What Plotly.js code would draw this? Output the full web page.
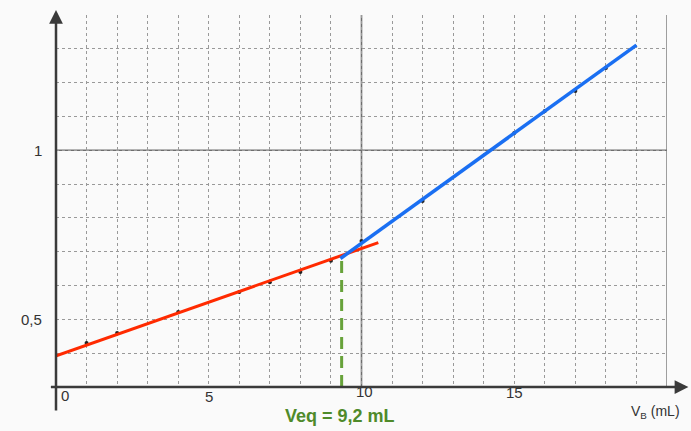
<!DOCTYPE html>
<html>
<head>
<meta charset="utf-8">
<script src="https://cdn.plot.ly/plotly-3.0.1.min.js"></script>
<style>html,body{margin:0;padding:0;background:#fafafa;}#chart{width:691px;height:431px;}</style>
</head>
<body>
<div id="chart"></div>
<script>
// Measured points (V_B in mL, measured quantity)
const pointsX = [1, 2, 4, 6, 7, 8, 9, 10, 12, 15, 16, 17, 18];
const pointsY = [0.430, 0.460, 0.522, 0.581, 0.610, 0.640, 0.673, 0.732, 0.850, 1.051, 1.116, 1.175, 1.243];
// Fitted line before equivalence (red)
const redX = [-0.1, 10.55];
const redY = [0.389, 0.727];
// Fitted line after equivalence (blue)
const blueX = [9.31, 19.0];
const blueY = [0.680, 1.311];
// Equivalence volume marker
const veqX = [9.35, 9.35];
const veqY = [0.3, 0.683];
const veqLabel = "Veq = 9,2 mL";
// Tick labels
const xTickVals = [0, 5, 10, 15];
const xTickText = ["0", "5", "10", "15"];
const yTickVals = [0.5, 1];
const yTickText = ["0,5", "1"];
const xAxisTitle = "V<sub>B</sub> (mL)";

const traces = [
  {x: veqX, y: veqY, mode: 'lines', line: {color: '#67a23a', width: 3, dash: '12px,7px'}, hoverinfo: 'skip'},
  {x: pointsX, y: pointsY, mode: 'markers', marker: {color: '#222', size: 4}, hoverinfo: 'skip'},
  {x: redX, y: redY, mode: 'lines', line: {color: '#ff2a00', width: 3}, cliponaxis: false},
  {x: blueX, y: blueY, mode: 'lines', line: {color: '#1a6ff2', width: 3.5}, cliponaxis: false}
];

const annotations = [];
const fontFam = 'Liberation Sans, Arial, sans-serif';
// x tick labels
const xShift = [9, 0, 3, 0];
const xLabY = [-0.05, -0.055, -0.04, -0.043];
xTickVals.forEach((v, i) => annotations.push({
  x: v, xref: 'x', y: xLabY[i], yref: 'paper', text: xTickText[i], showarrow: false,
  xshift: xShift[i], font: {family: fontFam, size: 15, color: '#333'}
}));
// y tick labels
yTickVals.forEach((v, i) => annotations.push({
  x: 0, xref: 'paper', y: v, yref: 'y', text: yTickText[i], showarrow: false,
  xanchor: 'right', xshift: -12, font: {family: fontFam, size: 15, color: '#333'}
}));
// axis arrows
annotations.push({x: 1.035, xref: 'paper', y: 0, yref: 'paper', text: '', showarrow: true,
  ax: -639, ay: 0, arrowhead: 2, arrowsize: 1.1, arrowwidth: 2.5, arrowcolor: '#3a3a3a', standoff: 0});
annotations.push({x: 0, xref: 'paper', y: 1.0134, yref: 'paper', text: '', showarrow: true,
  ax: 0, ay: 402, arrowhead: 2, arrowsize: 1.1, arrowwidth: 2.5, arrowcolor: '#3a3a3a', standoff: 0});
// axis title
annotations.push({x: 1.0245, xref: 'paper', y: -0.068, yref: 'paper', text: xAxisTitle, showarrow: false,
  xanchor: 'right', yanchor: 'middle', font: {family: fontFam, size: 14, color: '#333'}});
// Veq label
annotations.push({x: veqX[0], xref: 'x', y: -0.078, yref: 'paper', text: '<b>' + veqLabel + '</b>', showarrow: false,
  yanchor: 'middle', xshift: -2, font: {family: fontFam, size: 18, color: '#4f8a2a'}});

const shapes = [
  {type: 'line', xref: 'x', yref: 'y', x0: 0, x1: 20, y0: 1, y1: 1, line: {color: '#6e6e6e', width: 1.6}, layer: 'below'},
  {type: 'line', xref: 'x', yref: 'y', x0: 10, x1: 10, y0: 0.3, y1: 1.4, line: {color: '#6e6e6e', width: 1.6}, layer: 'below'},
  {type: 'line', xref: 'x', yref: 'y', x0: 20, x1: 20, y0: 0.3, y1: 1.4, line: {color: '#777', width: 1.4}, layer: 'below'}
];

const layout = {
  width: 691, height: 431,
  margin: {l: 56, r: 24, t: 15, b: 44, pad: 0},
  paper_bgcolor: '#fafafa', plot_bgcolor: '#fafafa',
  showlegend: false,
  xaxis: {range: [0, 20], dtick: 1, tick0: 0, showgrid: true, gridcolor: '#999', gridwidth: 1, griddash: 'dot',
          zeroline: false, showline: false, showticklabels: false, ticks: '', fixedrange: true},
  yaxis: {range: [0.3, 1.4], dtick: 0.1, tick0: 0.3, showgrid: true, gridcolor: '#999', gridwidth: 1, griddash: 'dot',
          zeroline: false, showline: false, showticklabels: false, ticks: '', fixedrange: true},
  annotations: annotations,
  shapes: shapes
};

Plotly.newPlot('chart', traces, layout, {displayModeBar: false, staticPlot: true});
</script>
</body>
</html>
